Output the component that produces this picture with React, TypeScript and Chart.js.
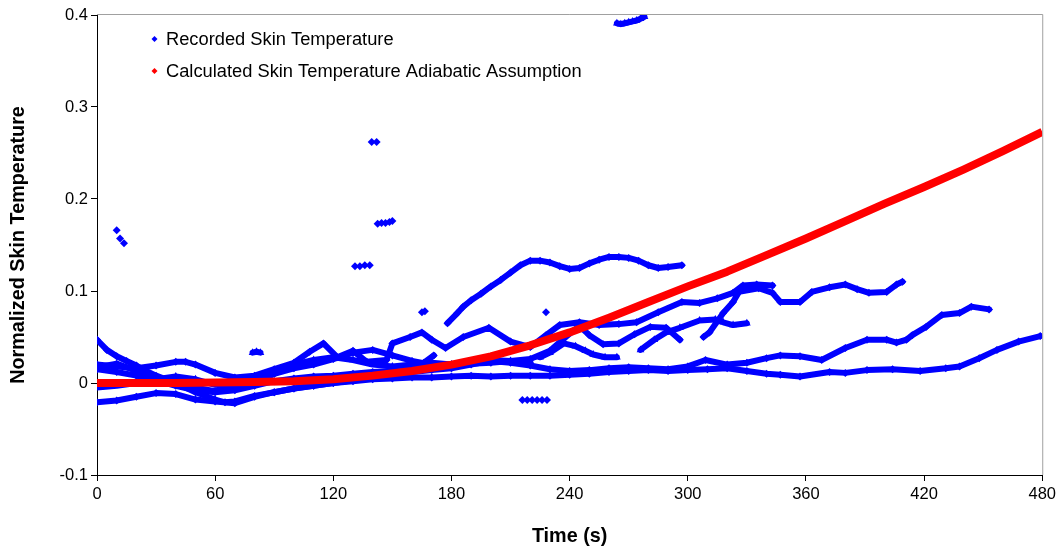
import React, { useEffect, useRef } from "react";
import { Chart, registerables } from "chart.js";

Chart.register(...registerables);

// ---- axis ticks ----
const xTickValues = [0, 60, 120, 180, 240, 300, 360, 420, 480];
const yTickValues = [-0.1, 0, 0.1, 0.2, 0.3, 0.4];
const yTickLabels = ["-0.1", "0", "0.1", "0.2", "0.3", "0.4"];

const legendLabels = [
  "Recorded Skin Temperature",
  "Calculated Skin Temperature Adiabatic Assumption",
];

// ---- calculated (red) ----
const calcT = [0, 20, 40, 60, 80, 100, 120, 140, 160, 180, 200, 220, 240, 260, 280, 300, 320, 340, 360, 380, 400, 420, 440, 460, 480];
const calcV = [0, 0, 0, 0.0005, 0.001, 0.002, 0.004, 0.008, 0.013, 0.02, 0.029, 0.041, 0.055, 0.071, 0.088, 0.105, 0.121, 0.139, 0.157, 0.176, 0.195, 0.213, 0.232, 0.252, 0.273];

// ---- recorded (blue) traces: diamonds ----
const recA1T = [0, 5, 10, 15, 20, 25, 30, 40, 50, 60, 65, 70, 80, 90, 100, 110, 120, 130, 140, 150, 160, 166, 171];
const recA1V = [0.047, 0.036, 0.029, 0.024, 0.019, 0.013, 0.008, 0.0, -0.01, -0.018, -0.021, -0.02, -0.014, -0.01, -0.006, -0.003, 0.0, 0.003, 0.006, 0.01, 0.016, 0.022, 0.03];

const recA2T = [178, 183, 186, 190, 195, 200, 205, 210, 215, 220, 225, 230, 235, 240, 245, 250, 255, 260, 265, 270, 275, 280, 285, 290, 297];
const recA2V = [0.065, 0.076, 0.083, 0.09, 0.097, 0.105, 0.112, 0.12, 0.128, 0.133, 0.133, 0.131, 0.127, 0.124, 0.125, 0.13, 0.134, 0.137, 0.137, 0.136, 0.133, 0.128, 0.125, 0.126, 0.128];

const recBT = [0, 10, 20, 30, 40, 45, 50, 60, 70, 80, 90, 100, 108, 115, 122, 130, 137, 147, 150, 159, 165, 170, 177, 186, 199, 210, 220, 228, 235, 245, 255, 265, 274, 285, 297, 306, 315, 323, 328, 335, 343];
const recBV = [0.02, 0.018, 0.016, 0.019, 0.023, 0.023, 0.02, 0.011, 0.006, 0.008, 0.015, 0.022, 0.034, 0.043, 0.028, 0.035, 0.023, 0.025, 0.043, 0.05, 0.055, 0.047, 0.038, 0.05, 0.06, 0.045, 0.039, 0.052, 0.063, 0.066, 0.063, 0.064, 0.066, 0.077, 0.088, 0.087, 0.092, 0.098, 0.106, 0.107, 0.106];

const recCT = [0, 10, 20, 30, 40, 50, 60, 70, 80, 90, 100, 110, 120, 130, 140, 150, 160, 170, 180, 190, 200, 210, 220, 230, 238, 245, 250, 257, 265, 273, 281, 289, 296];
const recCV = [0.017, 0.021, 0.013, 0.006, 0.0, -0.005, -0.009, -0.006, 0.002, 0.01, 0.016, 0.02, 0.026, 0.033, 0.036, 0.03, 0.024, 0.02, 0.02, 0.021, 0.022, 0.024, 0.026, 0.035, 0.05, 0.062, 0.052, 0.042, 0.043, 0.053, 0.061, 0.06, 0.047];

const recDT = [308, 311, 318, 323, 326, 336, 343, 347, 357, 363, 372, 380, 386, 392, 401, 406, 409];
const recDV = [0.05, 0.055, 0.076, 0.088, 0.099, 0.103, 0.098, 0.088, 0.088, 0.099, 0.104, 0.107, 0.102, 0.098, 0.099, 0.107, 0.11];

const recLowT = [0, 10, 20, 30, 40, 50, 60, 70, 80, 90, 100, 110, 120, 130, 140, 150, 160, 170, 180, 190, 200, 210, 220, 230, 240, 250, 260, 270, 280, 290, 300, 310, 320, 330, 340, 347, 357, 372, 380, 391, 404, 418, 431, 438, 448, 457, 468, 479];
const recLowV = [-0.021, -0.019, -0.015, -0.011, -0.012, -0.018, -0.02, -0.022, -0.015, -0.01, -0.006, -0.003, 0.0, 0.002, 0.004, 0.005, 0.006, 0.006, 0.007, 0.008, 0.007, 0.008, 0.008, 0.008, 0.009, 0.01, 0.012, 0.013, 0.014, 0.013, 0.014, 0.015, 0.016, 0.013, 0.01, 0.009, 0.007, 0.012, 0.011, 0.014, 0.015, 0.013, 0.016, 0.018, 0.027, 0.036, 0.045, 0.051];

const recMidT = [0, 10, 20, 30, 40, 50, 60, 70, 80, 90, 100, 110, 120, 130, 140, 150, 160, 170, 180, 190, 200, 210, 220, 230, 240, 250, 260, 270, 280, 290, 300, 309, 320, 330, 340, 347, 357, 368, 380, 391, 401, 406, 411, 414, 421, 429, 438, 444, 453];
const recMidV = [0.015, 0.012, 0.008, 0.003, -0.003, -0.008, -0.01, -0.008, -0.003, 0.002, 0.005, 0.007, 0.008, 0.01, 0.012, 0.013, 0.012, 0.014, 0.016, 0.02, 0.024, 0.022, 0.019, 0.015, 0.013, 0.014, 0.016, 0.017, 0.016, 0.015, 0.018, 0.025, 0.02, 0.022, 0.027, 0.03, 0.029, 0.025, 0.038, 0.047, 0.047, 0.044, 0.047, 0.052, 0.061, 0.074, 0.076, 0.083, 0.08];

// isolated diamond clusters
const dotsT = [10, 11.7, 13.7, 131, 133.5, 136, 138.5, 139.5, 142, 142.5, 144.5, 146.5, 148.5, 150, 165, 166.5, 228, 216, 218.5, 221, 223.5, 226, 228.5];
const dotsV = [0.166, 0.157, 0.152, 0.127, 0.127, 0.128, 0.128, 0.262, 0.262, 0.173, 0.174, 0.174, 0.175, 0.176, 0.077, 0.078, 0.077, -0.0185, -0.0185, -0.0185, -0.0185, -0.0185, -0.0185];

// ---- recorded traces: triangles ----
const tri1T = [0, 10, 20, 30, 40, 50, 60, 70, 80, 90, 100, 110, 120, 130, 140, 150, 160, 170, 180, 190, 200, 210, 220];
const tri1V = [-0.005, -0.003, 0.0, 0.004, 0.007, 0.004, -0.002, -0.004, 0.0, 0.01, 0.02, 0.025, 0.028, 0.025, 0.02, 0.018, 0.02, 0.022, 0.02, 0.022, 0.025, 0.024, 0.024];

const tri2T = [225, 230, 237, 243, 248, 252, 258, 264];
const tri2V = [0.028, 0.033, 0.043, 0.04, 0.035, 0.031, 0.028, 0.028];

const tri3T = [276, 283, 289, 296, 306, 314, 318, 323, 330];
const tri3V = [0.036, 0.047, 0.055, 0.06, 0.068, 0.069, 0.066, 0.063, 0.065];

const tri4T = [264, 266, 268, 270, 272, 274, 276, 278];
const tri4V = [0.391, 0.39, 0.391, 0.392, 0.393, 0.394, 0.396, 0.398];

const tri5T = [79, 81, 83];
const tri5V = [0.033, 0.034, 0.033];

const BLUE = "#0000ff";
const RED = "#ff0000";
const FONT = "'Liberation Sans', Arial, sans-serif";

function pts(t: number[], v: number[]) {
  return t.map((x, i) => ({ x, y: v[i] }));
}

function blueTrace(t: number[], v: number[], style: string, line = true) {
  return {
    data: pts(t, v),
    showLine: line,
    borderColor: BLUE,
    backgroundColor: BLUE,
    borderWidth: 6,
    borderJoinStyle: "round",
    borderCapStyle: "round",
    pointStyle: style,
    pointRadius: style === "triangle" ? 4.5 : 4,
    pointBorderWidth: 0,
    pointBackgroundColor: BLUE,
    pointBorderColor: BLUE,
  };
}

const framePlugin = {
  id: "frameAndLegend",
  afterDraw(chart: any) {
    const { ctx, chartArea } = chart;
    ctx.save();
    ctx.strokeStyle = "#a0a0a0";
    ctx.lineWidth = 1;
    ctx.beginPath();
    ctx.moveTo(chartArea.left, chartArea.top - 0.5);
    ctx.lineTo(chartArea.right + 0.5, chartArea.top - 0.5);
    ctx.lineTo(chartArea.right + 0.5, chartArea.bottom);
    ctx.stroke();

    // legend
    const items = [
      { label: legendLabels[0], color: BLUE, y: 39 },
      { label: legendLabels[1], color: RED, y: 71 },
    ];
    ctx.font = `18.3px ${FONT}`;
    ctx.textBaseline = "middle";
    ctx.textAlign = "left";
    for (const it of items) {
      ctx.fillStyle = it.color;
      ctx.beginPath();
      const cx = 154.5;
      const cy = it.y;
      const r = 3;
      ctx.moveTo(cx, cy - r);
      ctx.lineTo(cx + r, cy);
      ctx.lineTo(cx, cy + r);
      ctx.lineTo(cx - r, cy);
      ctx.closePath();
      ctx.fill();
      ctx.fillStyle = "#000";
      ctx.fillText(it.label, 166, it.y + 1);
    }
    ctx.restore();
  },
};

export default function App() {
  const ref = useRef<HTMLCanvasElement>(null);

  useEffect(() => {
    if (!ref.current) return;
    Chart.defaults.font.family = FONT;
    const datasets: any[] = [
      {
        data: pts(calcT, calcV),
        showLine: true,
        borderColor: RED,
        backgroundColor: RED,
        borderWidth: 8,
        borderJoinStyle: "round",
        pointRadius: 0,
        pointStyle: "rectRot",
      },
      blueTrace(recA1T, recA1V, "rectRot"),
      blueTrace(recA2T, recA2V, "rectRot"),
      blueTrace(recBT, recBV, "rectRot"),
      blueTrace(recCT, recCV, "rectRot"),
      blueTrace(recDT, recDV, "rectRot"),
      blueTrace(recLowT, recLowV, "rectRot"),
      blueTrace(recMidT, recMidV, "rectRot"),
      blueTrace(dotsT, dotsV, "rectRot", false),
      blueTrace(tri1T, tri1V, "triangle"),
      blueTrace(tri2T, tri2V, "triangle"),
      blueTrace(tri3T, tri3V, "triangle"),
      blueTrace(tri4T, tri4V, "triangle"),
      blueTrace(tri5T, tri5V, "triangle"),
    ];

    const chart = new Chart(ref.current, {
      type: "scatter",
      data: { datasets },
      options: {
        animation: false,
        responsive: false,
        layout: { padding: { left: 0, right: 17, top: 15, bottom: 0 } },
        plugins: {
          legend: { display: false },
          tooltip: { enabled: false },
        },
        scales: {
          x: {
            type: "linear",
            min: 0,
            max: 480,
            afterBuildTicks: (scale: any) => {
              scale.ticks = xTickValues.map((value) => ({ value }));
            },
            afterFit: (scale: any) => {
              scale.height = 75;
            },
            ticks: {
              color: "#000",
              font: { size: 16.5, family: FONT },
              padding: 4,
              maxRotation: 0,
              autoSkip: false,
              callback: (v: any) => String(v),
            },
            grid: {
              drawOnChartArea: false,
              drawTicks: true,
              tickLength: 6,
              color: "#000",
            },
            border: { display: true, color: "#000", width: 1 },
            title: {
              display: true,
              text: "Time (s)",
              color: "#000",
              font: { size: 19.8, weight: "bold", family: FONT },
              padding: { top: 0, bottom: 2 },
            },
          },
          y: {
            type: "linear",
            min: -0.1,
            max: 0.4,
            afterBuildTicks: (scale: any) => {
              scale.ticks = yTickValues.map((value) => ({ value }));
            },
            afterFit: (scale: any) => {
              scale.width = 97;
            },
            ticks: {
              color: "#000",
              font: { size: 16.5, family: FONT },
              padding: 3,
              autoSkip: false,
              callback: (_v: any, i: number) => yTickLabels[i],
            },
            grid: {
              drawOnChartArea: false,
              drawTicks: true,
              tickLength: 6,
              color: "#000",
            },
            border: { display: true, color: "#000", width: 1 },
            title: {
              display: true,
              text: "Normalized Skin Temperature",
              color: "#000",
              font: { size: 19.8, weight: "bold", family: FONT },
              padding: { top: 7, bottom: 0 },
            },
          },
        },
      },
      plugins: [framePlugin],
    });
    return () => chart.destroy();
  }, []);

  return (
    <div style={{ position: "fixed", left: 0, top: 0, width: 1060, height: 550, background: "#fff" }}>
      <canvas ref={ref} width={1060} height={550} style={{ display: "block" }} />
    </div>
  );
}
